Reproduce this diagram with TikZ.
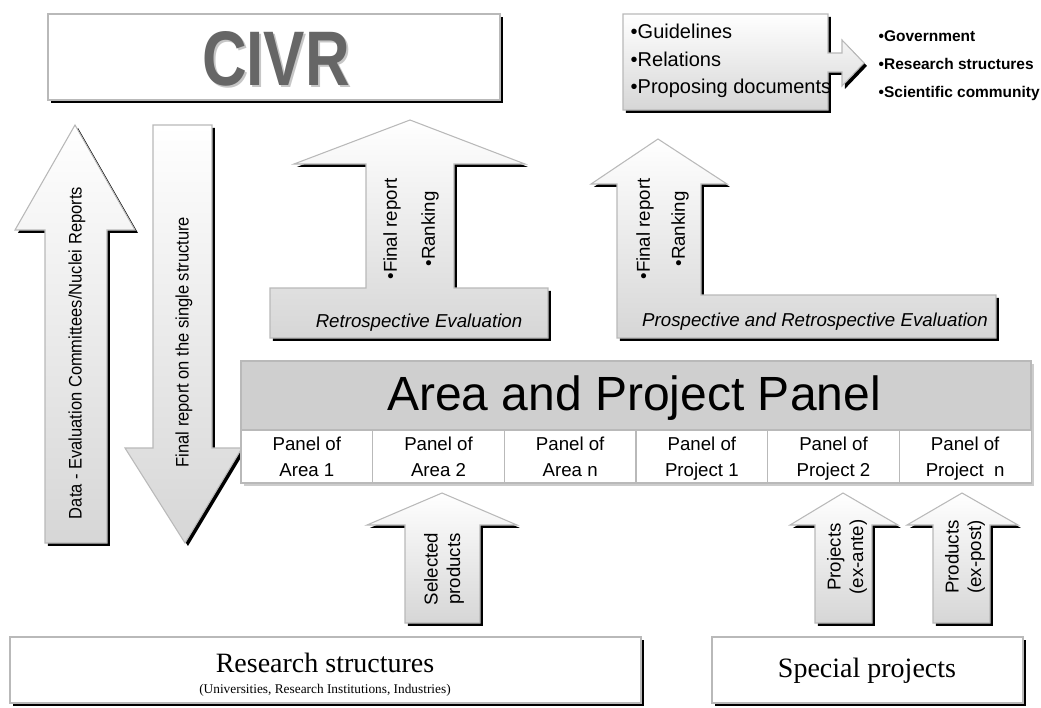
\documentclass[tikz,border=0pt]{standalone}
\usepackage{fontspec}
\setmainfont{Liberation Sans}
\newfontfamily\serifrm{Liberation Serif}
\newfontfamily\civrfont[FakeStretch=0.8]{Liberation Sans}
\newfontfamily\condsans[FakeStretch=0.91]{Liberation Sans}
\usetikzlibrary{shadows}
\newcommand\fsz[2]{\fontsize{#1}{#2}\selectfont}
\tikzset{
  shd/.style={drop shadow={shadow xshift=2.2pt, shadow yshift=-2.2pt, fill=black, opacity=1}},
  shape3d/.style={shd, draw=gray!55, line width=0.8pt, top color=white, bottom color=gray!32},
  whitebox/.style={shd, draw=gray!55, line width=1.5pt, fill=white},
  cell/.style={draw=gray!55, line width=0.8pt, fill=white},
  celltxt/.style={align=center, anchor=north, font=\fsz{14pt}{19.5pt}},
  vtxt/.style={rotate=90, align=center},
}
\begin{document}
\begin{tikzpicture}[x=0.75pt,y=-0.75pt]
\useasboundingbox (0,0) rectangle (1041,707);
% CIVR
\draw[whitebox] (48,14) rectangle (500,100);
\node[text=gray!45, font=\civrfont\bfseries\fsz{58pt}{60pt}] at (278,61) {CIVR};
\node (civr) [text=black!60, font=\civrfont\bfseries\fsz{58pt}{60pt}] at (276,59) {CIVR};
% guidelines box with arrow
\draw[shape3d] (623,14) -- (828,14) -- (828,53) -- (842,53) -- (842,40) -- (864,63) -- (842,86) -- (842,72) -- (828,72) -- (828,110) -- (623,110) -- cycle;
\node (guide) [anchor=west, align=left, font=\fsz{15pt}{20.5pt}] at (626,61) {•Guidelines\\•Relations\\•Proposing documents};
\node (targets) [anchor=west, align=left, font=\fsz{11.6pt}{21pt}\bfseries] at (874,66) {•Government\\•Research structures\\•Scientific community};
% left up arrow
\draw[shape3d] (75,125) -- (135,230) -- (107,230) -- (107,543) -- (45,543) -- (45,230) -- (15,230) -- cycle;
\node (data) [vtxt, font=\condsans\fsz{13.6pt}{15pt}] at (77,353) {Data - Evaluation Committees/Nuclei Reports};
% down arrow
\draw[shape3d] (153,125) -- (212,125) -- (212,448) -- (242,448) -- (185,543) -- (125,448) -- (153,448) -- cycle;
\node (final) [vtxt, font=\condsans\fsz{13.6pt}{15pt}] at (184,342) {Final report on the single structure};
% retrospective T arrow
\draw[shape3d] (410,120) -- (525,164) -- (454,164) -- (454,288) -- (548,288) -- (548,338) -- (270,338) -- (270,288) -- (366,288) -- (366,164) -- (294,164) -- cycle;
\node (rfr) [vtxt, font=\fsz{14pt}{17pt}] at (392,229) {•Final report};
\node (rrk) [vtxt, font=\fsz{14pt}{17pt}] at (430,229) {•Ranking};
\node (retro) [font=\fsz{14pt}{17pt}\itshape] at (419,323) {Retrospective Evaluation};
% prospective L arrow
\draw[shape3d] (658,139) -- (727,184) -- (701,184) -- (701,295) -- (996,295) -- (996,338) -- (617,338) -- (617,184) -- (591,184) -- cycle;
\node (pfr) [vtxt, font=\fsz{14pt}{17pt}] at (645,229) {•Final report};
\node (prk) [vtxt, font=\fsz{14pt}{17pt}] at (680,229) {•Ranking};
\node (pro) [font=\fsz{14pt}{17pt}\itshape] at (815,322) {Prospective and Retrospective Evaluation};
% panel
\fill[gray!40] (244,364) rectangle (1034,486);
\draw[cell, fill=gray!38] (241,361) rectangle (1031,430);
\node (panel) [font=\fsz{36pt}{40pt}] at (634,398) {Area and Project Panel};
\foreach \i/\t in {0/{Panel of\\Area 1},1/{Panel of\\Area 2},2/{Panel of\\Area n},3/{Panel of\\Project 1},4/{Panel of\\Project 2},5/{Panel of\\Project~ n}}{
  \draw[cell] ({241+131.67*\i},430) rectangle ({241+131.67*(\i+1)},483);
  \node (cell\i) [celltxt] at ({241+131.67*(\i+0.5)},432) {\t};
}
% bottom arrows
\draw[shape3d] (442,493) -- (517,525) -- (480,525) -- (480,623) -- (405,623) -- (405,525) -- (367,525) -- cycle;
\node (sel) [vtxt, font=\fsz{14pt}{17pt}] at (444,569) {Selected\\products};
\draw[shape3d] (843,493) -- (898,525) -- (872,525) -- (872,623) -- (815,623) -- (815,525) -- (790,525) -- cycle;
\node (proj) [vtxt, font=\fsz{14pt}{17pt}] at (847,557) {Projects\\(ex-ante)};
\draw[shape3d] (962,493) -- (1018,525) -- (990,525) -- (990,623) -- (933,623) -- (933,525) -- (907,525) -- cycle;
\node (prod) [vtxt, font=\fsz{14pt}{17pt}] at (965,557) {Products\\(ex-post)};
% bottom boxes
\draw[whitebox] (10,637) rectangle (641,703);
\node (rs) [font=\serifrm\fsz{21pt}{24pt}] at (325,663) {Research structures};
\node (rsub) [font=\serifrm\fsz{10pt}{12pt}] at (325,690) {(Universities, Research Institutions, Industries)};
\draw[whitebox] (712,637) rectangle (1023,703);
\node (sp) [font=\serifrm\fsz{21pt}{24pt}] at (867,671) {Special projects};
\end{tikzpicture}
\end{document}
